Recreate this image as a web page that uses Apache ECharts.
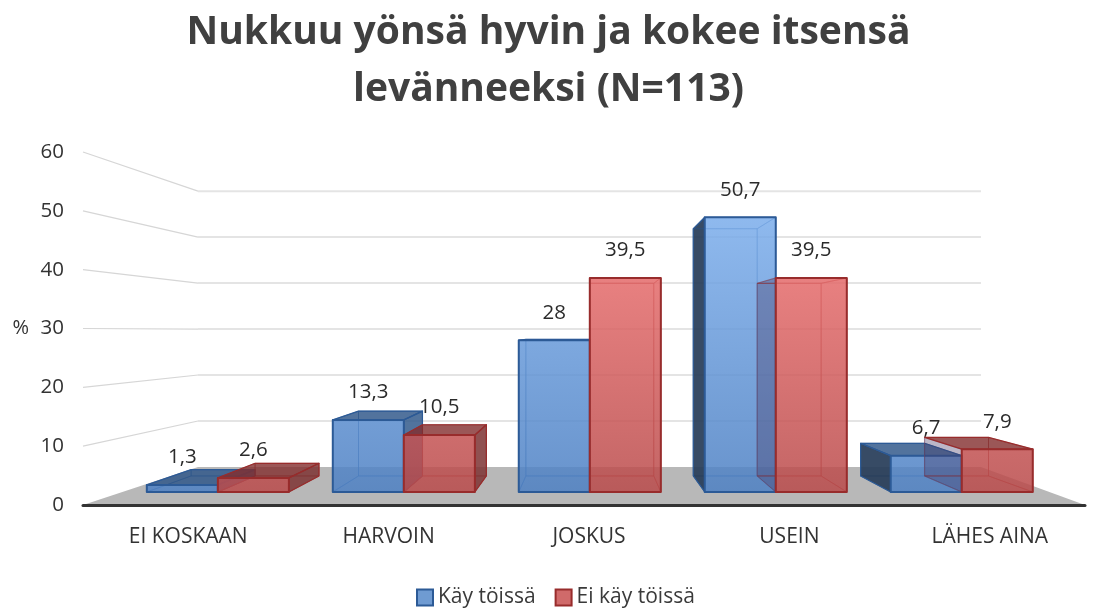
<!DOCTYPE html>
<html>
<head>
<meta charset="utf-8">
<style>html,body{margin:0;padding:0;background:#fff}#c{width:1097px;height:613px}</style>
<script src="https://cdn.jsdelivr.net/npm/echarts@6/dist/echarts.min.js"></script>
</head>
<body>
<div id="c"></div>
<script>
const titleText = 'Nukkuu yönsä hyvin ja kokee itsensä\nlevänneeksi (N=113)';
const categories = ['EI KOSKAAN', 'HARVOIN', 'JOSKUS', 'USEIN', 'LÄHES AINA'];
const kayToissa = [1.3, 13.3, 28, 50.7, 6.7];
const eiKayToissa = [2.6, 10.5, 39.5, 39.5, 7.9];
const yTicks = [10, 20, 30, 40, 50, 60];
const FONT = '"Open Sans", "Noto Sans", sans-serif';

// Projection of the fake-3D scene
const WALL = {k: 0.7814, vx: 609, vy: 331};
const BAR_FRONT = {kx: 0.928, ky: 0.921, vx: 609, vy: 340, dx: 4};
const BAR_BACK = {k: 0.9, vx: 590, vy: 332};
const BAR_SPAN = 0.382;

const wallPt = p => [WALL.vx + (p[0] - WALL.vx) * WALL.k, WALL.vy + (p[1] - WALL.vy) * WALL.k];
const frontPt = p => [BAR_FRONT.vx + (p[0] - BAR_FRONT.vx) * BAR_FRONT.kx + BAR_FRONT.dx,
                      BAR_FRONT.vy + (p[1] - BAR_FRONT.vy) * BAR_FRONT.ky];
const backPt = p => [BAR_BACK.vx + (p[0] - BAR_BACK.vx) * BAR_BACK.k, BAR_BACK.vy + (p[1] - BAR_BACK.vy) * BAR_BACK.k];

function globalGrad(y1, y2, c1, c2) {
  return {type: 'linear', global: true, x: 0, y: y1, x2: 0, y2: y2,
    colorStops: [{offset: 0, color: c1}, {offset: 1, color: c2}]};
}
const STY = {
  blue: {
    front: globalGrad(217, 492, 'rgba(123,173,235,0.85)', 'rgba(77,128,195,0.85)'),
    stroke: '#2c5a96', inner: 'rgba(44,90,150,0.5)', leftStroke: '#2c5a96',
    top: 'rgba(44,84,135,0.82)', left: 'rgba(38,60,88,0.92)', right: 'rgba(50,90,140,0.85)'
  },
  red: {
    front: globalGrad(278, 492, 'rgba(228,106,106,0.85)', 'rgba(185,74,74,0.85)'),
    stroke: '#982c2c', inner: 'rgba(150,44,44,0.5)', leftStroke: 'rgba(70,90,150,0.25)',
    top: 'rgba(130,45,45,0.8)', left: 'rgba(70,55,100,0.36)', right: 'rgba(125,50,50,0.85)'
  }
};

function poly(points, fill, stroke, lw) {
  return {type: 'polygon', shape: {points: points},
    style: {fill: fill || 'none', stroke: stroke || 'none', lineWidth: lw || 0, lineJoin: 'round'}};
}

function barRenderer(side, sty) {
  return function (params, api) {
    const cat = api.value(0), v = api.value(1);
    const band = api.size([1, 0])[0];
    const base = api.coord([cat, 0]), topC = api.coord([cat, v]);
    const x0 = base[0] + (side < 0 ? -BAR_SPAN * band : 0);
    const x1 = base[0] + (side < 0 ? 0 : BAR_SPAN * band);
    const fbl = frontPt([x0, base[1]]), fbr = frontPt([x1, base[1]]);
    const ftl = frontPt([x0, topC[1]]), ftr = frontPt([x1, topC[1]]);
    const bbl = backPt(fbl), bbr = backPt(fbr), btl = backPt(ftl), btr = backPt(ftr);
    const ch = [];
    const lineOnly = p => poly(p, 'none', sty.inner, 1);
    // hidden faces as thin lines seen through the bar
    ch.push(lineOnly([bbl, bbr, btr, btl]));
    ch.push(lineOnly([bbl, bbr, fbr, fbl]));
    const leftVis = bbl[0] < fbl[0], rightVis = bbr[0] > fbr[0], topVis = btl[1] < ftl[1];
    ch.push(leftVis ? poly([fbl, ftl, btl, bbl], sty.left, sty.leftStroke, 1.2) : lineOnly([fbl, ftl, btl, bbl]));
    ch.push(rightVis ? poly([fbr, ftr, btr, bbr], sty.right, sty.stroke, 1.2) : lineOnly([fbr, ftr, btr, bbr]));
    ch.push(topVis ? poly([ftl, ftr, btr, btl], sty.top, sty.stroke, 1.2) : lineOnly([ftl, ftr, btr, btl]));
    ch.push(poly([fbl, fbr, ftr, ftl], sty.front, sty.stroke, 2));
    ch.push({type: 'text', z2: 100, style: {
      text: String(v).replace('.', ','),
      x: (ftl[0] + ftr[0]) / 2, y: ftl[1] - 27.5,
      align: 'center', verticalAlign: 'middle',
      font: '20.5px ' + FONT, fill: '#2b2b2b'
    }});
    return {type: 'group', children: ch};
  };
}

function sceneExtent(api) {
  const band = api.size([1, 0])[0];
  const left = api.coord([0, 0])[0] - band / 2;
  const right = api.coord([categories.length - 1, 0])[0] + band / 2;
  return [left, right];
}

const chart = echarts.init(document.getElementById('c'), null, {renderer: 'canvas'});
chart.setOption({
  animation: false,
  backgroundColor: '#ffffff',
  title: {
    text: titleText, left: 'center', top: -1,
    textStyle: {fontFamily: FONT, fontSize: 39, fontWeight: 'bold', color: '#404040', lineHeight: 57, align: 'center'}
  },
  grid: {left: 83, right: 12, top: 152, bottom: 108, containLabel: false},
  legend: {
    data: ['Käy töissä', 'Ei käy töissä'],
    bottom: 0, left: 411, icon: 'rect', itemWidth: 16, itemHeight: 16, itemGap: 19,
    textStyle: {fontFamily: FONT, fontSize: 21, color: '#3a3a3a'}
  },
  xAxis: {
    type: 'category', data: categories,
    axisLine: {show: true, onZero: false, lineStyle: {color: '#333333', width: 3}},
    axisTick: {show: false},
    axisLabel: {fontFamily: FONT, fontSize: 21, color: '#333333', margin: 22, padding: [0, 0, 0, 10]},
    z: 5
  },
  yAxis: {
    type: 'value', min: 0, max: 60, interval: 10,
    name: '%', nameLocation: 'middle', nameRotate: 0, nameGap: 54,
    nameTextStyle: {fontFamily: FONT, fontSize: 20, color: '#333333', padding: [4, 0, 0, 0]},
    axisLine: {show: false}, axisTick: {show: false}, splitLine: {show: false},
    axisLabel: {fontFamily: FONT, fontSize: 20.5, color: '#333333', margin: 19}
  },
  series: [
    {
      name: 'Lattia', type: 'custom', silent: true, z: 1,
      data: [[0, 0]], legendHoverLink: false,
      renderItem: function (p, api) {
        const [l, r] = sceneExtent(api);
        const y = api.coord([0, 0])[1];
        return poly([[l, y], [r, y], wallPt([r, y]), wallPt([l, y])], '#b8b8b8');
      }
    },
    {
      name: 'Ruudukko', type: 'custom', silent: true, z: 1,
      data: yTicks.map(t => [0, t]),
      renderItem: function (p, api) {
        const [l, r] = sceneExtent(api);
        const y = api.coord([0, api.value(1)])[1];
        const a = [l, y], b = wallPt(a), c = wallPt([r, y]);
        return {type: 'group', children: [
          {type: 'line', shape: {x1: a[0], y1: a[1], x2: b[0], y2: b[1]}, style: {stroke: '#d6d6d6', lineWidth: 1.2}},
          {type: 'line', shape: {x1: b[0], y1: b[1], x2: c[0], y2: c[1]}, style: {stroke: '#e4e4e4', lineWidth: 2}}
        ]};
      }
    },
    {
      name: 'Käy töissä', type: 'custom', z: 2,
      itemStyle: {color: '#6f9bd2', borderColor: '#2c5a96', borderWidth: 2},
      data: kayToissa.map((v, i) => [i, v]),
      renderItem: barRenderer(-1, STY.blue)
    },
    {
      name: 'Ei käy töissä', type: 'custom', z: 3,
      itemStyle: {color: '#d06a6a', borderColor: '#982c2c', borderWidth: 2},
      data: eiKayToissa.map((v, i) => [i, v]),
      renderItem: barRenderer(1, STY.red)
    }
  ]
});
</script>
</body>
</html>
